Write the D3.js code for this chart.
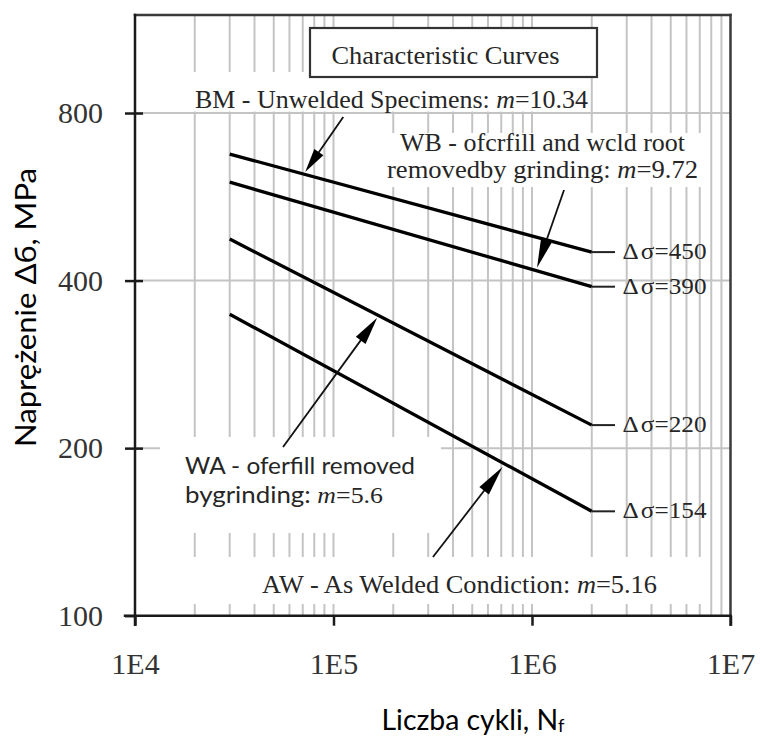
<!DOCTYPE html>
<html>
<head>
<meta charset="utf-8">
<script src="https://cdn.jsdelivr.net/npm/d3@7/dist/d3.min.js"></script>
<style>
  body { margin: 0; background: #fff; }
  svg { display: block; }
</style>
</head>
<body>
<svg id="chart" width="760" height="738"></svg>
<script>
// Fatigue S-N characteristic curves, straight lines on log-log axes.
// Each curve is given by its stress range (MPa) at the first and last cycle count.
const curveCycles = [3e4, 2e6];
const bmStress = [675, 450];   // BM - unwelded specimens
const wbStress = [601, 390];   // WB - overfill and weld root ground
const waStress = [475, 220];   // WA - overfill ground
const awStress = [348, 154];   // AW - as welded

// Value labels placed at the right end of each curve
const endValues = [450, 390, 220, 154];
const leaderEndCycles = 2.62e6;

// Axis ticks
const xTickValues = [1e4, 1e5, 1e6, 1e7];
const xTickLabels = ["1E4", "1E5", "1E6", "1E7"];
const yTickValues = [100, 200, 400, 800];
const yGridValues = [200, 400, 800];

// Pointer arrows: [tail, tip] as [cycles, MPa]
const bmArrow = [[1.12e5, 787], [7.2e4, 627]];
const wbArrow = [[1.45e6, 582], [1.06e6, 422]];
const waArrow = [[5.57e4, 201], [1.66e5, 343]];
const awArrow = [[3.17e5, 127.5], [7.1e5, 185]];

const svg = d3.select("#chart");

const plotLeft = 135, plotRight = 730.5, plotTop = 15, plotBottom = 615.7;
const x = d3.scaleLog().domain([1e4, 1e7]).range([plotLeft, plotRight]);
const y = d3.scaleLog().domain([100, 1200]).range([plotBottom, plotTop]);

const serif = "'Liberation Serif', 'Times New Roman', serif";
const sans = "Lato, 'Open Sans', 'Liberation Sans', sans-serif";
const textColor = "#262626";
const gridColor = "#c4c4c4";

// ---- grid ----
const grid = svg.append("g");
const minorX = x.ticks().filter(d => d > 1e4 && d < 1e7);
grid.selectAll("line.vx").data(minorX).join("line")
  .attr("x1", d => x(d)).attr("x2", d => x(d))
  .attr("y1", plotTop).attr("y2", plotBottom)
  .attr("stroke", gridColor).attr("stroke-width", 2);
grid.selectAll("line.hy").data(yGridValues).join("line")
  .attr("x1", plotLeft).attr("x2", plotRight)
  .attr("y1", d => y(d)).attr("y2", d => y(d))
  .attr("stroke", gridColor).attr("stroke-width", 2);

// ---- white backgrounds behind the annotation texts ----
const masks = [
  [188, 72, 590, 111.5],
  [383, 133, 702, 187],
  [160, 437, 441, 533],
  [188, 557, 706, 604]
];
svg.append("g").selectAll("rect").data(masks).join("rect")
  .attr("x", d => d[0]).attr("y", d => d[1])
  .attr("width", d => d[2] - d[0]).attr("height", d => d[3] - d[1])
  .attr("fill", "#fff");

// ---- frame ----
const frame = svg.append("g").attr("stroke-linecap", "square");
frame.append("line").attr("x1", plotLeft).attr("x2", plotRight).attr("y1", plotTop).attr("y2", plotTop)
  .attr("stroke", "#3a3a3a").attr("stroke-width", 2.5);
frame.append("line").attr("x1", plotRight).attr("x2", plotRight).attr("y1", plotTop).attr("y2", plotBottom + 9)
  .attr("stroke", "#3a3a3a").attr("stroke-width", 2.5);
frame.append("line").attr("x1", plotLeft).attr("x2", plotLeft).attr("y1", plotTop).attr("y2", plotBottom + 9)
  .attr("stroke", "#1a1a1a").attr("stroke-width", 2.5);
frame.append("line").attr("x1", plotLeft - 10).attr("x2", plotRight).attr("y1", plotBottom).attr("y2", plotBottom)
  .attr("stroke", "#1a1a1a").attr("stroke-width", 2.5);

// ---- axes ----
const yAxis = d3.axisLeft(y).tickValues(yTickValues).tickFormat(d3.format("d"))
  .tickSize(10).tickPadding(22);
const yG = svg.append("g").attr("transform", `translate(${plotLeft},0)`).call(yAxis);
yG.select(".domain").remove();
yG.selectAll(".tick line").attr("stroke", "#1a1a1a").attr("stroke-width", 2.5);
yG.selectAll(".tick text").attr("font-family", serif).attr("font-size", 30).attr("fill", "#333");

const yInner = d3.axisRight(y).tickValues(yTickValues.filter(d => d > 100)).tickFormat("").tickSize(8);
const yiG = svg.append("g").attr("transform", `translate(${plotLeft},0)`).call(yInner);
yiG.select(".domain").remove();
yiG.selectAll(".tick line").attr("stroke", "#1a1a1a").attr("stroke-width", 2.5);

const xAxis = d3.axisBottom(x).tickValues(xTickValues)
  .tickFormat((d, i) => xTickLabels[i]).tickSize(10).tickPadding(27);
const xG = svg.append("g").attr("transform", `translate(0,${plotBottom})`).call(xAxis);
xG.select(".domain").remove();
xG.selectAll(".tick line").attr("stroke", "#1a1a1a").attr("stroke-width", 2.5);
xG.selectAll(".tick text").attr("font-family", serif).attr("font-size", 30).attr("fill", "#333");

// ---- curves ----
const curves = [bmStress, wbStress, waStress, awStress];
const line = d3.line().x(d => x(d[0])).y(d => y(d[1]));
svg.append("g").selectAll("path").data(curves).join("path")
  .attr("d", s => line(curveCycles.map((c, i) => [c, s[i]])))
  .attr("fill", "none").attr("stroke", "#000").attr("stroke-width", 3.3);

// leaders and value labels at the curve ends
const lastCycles = curveCycles[curveCycles.length - 1];
svg.append("g").selectAll("line").data(endValues).join("line")
  .attr("x1", x(lastCycles)).attr("x2", x(leaderEndCycles))
  .attr("y1", d => y(d)).attr("y2", d => y(d))
  .attr("stroke", "#222").attr("stroke-width", 2);
svg.append("g").selectAll("text").data(endValues).join("text")
  .attr("x", x(leaderEndCycles) + 7.5)
  .attr("y", d => y(d) + 7)
  .attr("font-family", serif).attr("font-size", 23).attr("fill", textColor)
  .attr("textLength", 84).attr("lengthAdjust", "spacingAndGlyphs")
  .text(d => "Δ\u200Aσ=" + d);

// ---- arrows ----
function arrow(a, headLen, halfW) {
  const [tx, ty] = [x(a[0][0]), y(a[0][1])];
  const [hx, hy] = [x(a[1][0]), y(a[1][1])];
  const len = Math.hypot(hx - tx, hy - ty);
  const ux = (hx - tx) / len, uy = (hy - ty) / len;
  const nx = -uy, ny = ux;
  const bx = hx - ux * headLen, by = hy - uy * headLen;
  const g = svg.append("g");
  g.append("line").attr("x1", tx).attr("y1", ty).attr("x2", bx + ux * 4).attr("y2", by + uy * 4)
    .attr("stroke", "#111").attr("stroke-width", 1.8);
  g.append("path")
    .attr("d", `M${hx},${hy}L${bx + nx * halfW},${by + ny * halfW}L${bx - nx * halfW},${by - ny * halfW}Z`)
    .attr("fill", "#000");
}
arrow(bmArrow, 24, 5.5);
arrow(wbArrow, 30, 6);
arrow(waArrow, 28, 6);
arrow(awArrow, 30, 6);

// ---- legend title box ----
svg.append("rect").attr("x", 310).attr("y", 28).attr("width", 287).attr("height", 49)
  .attr("fill", "#fff").attr("stroke", "#333").attr("stroke-width", 2.2);
svg.append("text").attr("x", 331.5).attr("y", 63.5)
  .attr("font-family", serif).attr("font-size", 25.5).attr("fill", textColor)
  .attr("textLength", 228).attr("lengthAdjust", "spacingAndGlyphs")
  .text("Characteristic Curves");

// ---- annotation texts ----
function serifLabel(xp, yp, width, size, before, after) {
  const t = svg.append("text").attr("x", xp).attr("y", yp)
    .attr("font-family", serif).attr("font-size", size).attr("fill", textColor)
    .attr("textLength", width).attr("lengthAdjust", "spacingAndGlyphs");
  t.append("tspan").text(before);
  if (after !== undefined) {
    t.append("tspan").attr("font-style", "italic").text("m");
    t.append("tspan").text(after);
  }
}
serifLabel(195, 108.3, 393, 25, "BM - Unwelded Specimens: ", "=10.34");
serifLabel(400, 150.5, 285, 25, "WB - ofcrfill and wcld root");
serifLabel(387, 178, 311, 25, "removedby grinding: ", "=9.72");
serifLabel(262, 592.5, 395, 25, "AW - As Welded Condiction: ", "=5.16");

svg.append("text").attr("x", 185).attr("y", 473.5)
  .attr("font-family", sans).attr("font-size", 22.5).attr("fill", textColor)
  .attr("textLength", 230).attr("lengthAdjust", "spacingAndGlyphs")
  .text("WA - oferfill removed");
const wa2 = svg.append("text").attr("x", 185).attr("y", 503)
  .attr("font-size", 22.5).attr("fill", textColor)
  .attr("textLength", 198).attr("lengthAdjust", "spacingAndGlyphs");
wa2.append("tspan").attr("font-family", sans).text("bygrinding: ");
wa2.append("tspan").attr("font-family", serif).attr("font-style", "italic").text("m");
wa2.append("tspan").attr("font-family", serif).text("=5.6");

// ---- axis titles ----
svg.append("text")
  .attr("transform", "translate(36,307.5) rotate(-90)")
  .attr("text-anchor", "middle")
  .attr("font-family", sans).attr("font-size", 28).attr("fill", "#000")
  .attr("textLength", 279).attr("lengthAdjust", "spacingAndGlyphs")
  .text("Naprężenie Δб, MPa");

const xt = svg.append("text").attr("x", 381.5).attr("y", 730)
  .attr("font-family", sans).attr("font-size", 28).attr("fill", "#000")
  .attr("textLength", 183).attr("lengthAdjust", "spacingAndGlyphs");
xt.append("tspan").text("Liczba cykli, N");
xt.append("tspan").attr("font-size", 18).attr("dy", 2).text("f");
</script>
</body>
</html>
